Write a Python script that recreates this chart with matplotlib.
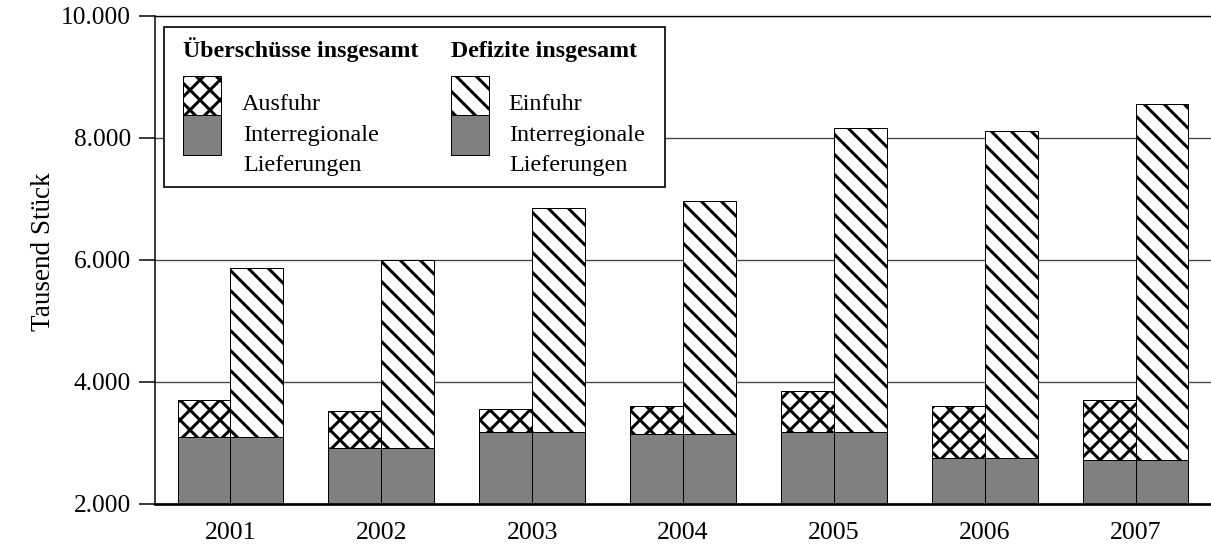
import matplotlib
matplotlib.use("Agg")
import matplotlib.pyplot as plt
from matplotlib.patches import Rectangle
import numpy as np

# Werte (Tausend Stück)
jahre = ["2001", "2002", "2003", "2004", "2005", "2006", "2007"]
interregional = [3100, 2925, 3185, 3145, 3185, 2760, 2715]
ausfuhr = [600, 600, 380, 465, 675, 850, 985]
einfuhr = [2770, 3075, 3660, 3825, 4985, 5360, 5840]
yticks = [2000, 4000, 6000, 8000, 10000]

W, H, DPI = 1211, 553, 120
GRAU = "#808080"
KREUZ = "xx"
SCHRAEG = "\\\\"

plt.rcParams["font.family"] = ["Liberation Serif", "DejaVu Serif"]
plt.rcParams["hatch.linewidth"] = 1.8


def px(x, y):
    # Pixel (von oben links) -> Figurkoordinaten
    return x / W, 1 - y / H


fig = plt.figure(figsize=(W / DPI, H / DPI), dpi=DPI)
ax = fig.add_axes([155 / W, 1 - 504 / H, (W - 155) / W, (504 - 16) / H])

x = np.arange(len(jahre))
bw = 0.35
oben = np.array(interregional)

# Überschüsse (links) und Defizite (rechts)
ax.bar(x - bw / 2, interregional, bw, color=GRAU, edgecolor="black", lw=0.6, zorder=2)
ax.bar(x - bw / 2, ausfuhr, bw, bottom=oben, color="white", edgecolor="black",
       hatch=KREUZ, lw=0.6, zorder=2)
ax.bar(x + bw / 2, interregional, bw, color=GRAU, edgecolor="black", lw=0.6, zorder=2)
ax.bar(x + bw / 2, einfuhr, bw, bottom=oben, color="white", edgecolor="black",
       hatch=SCHRAEG, lw=0.6, zorder=2)

ax.set_xlim(-0.5, len(jahre) - 0.5)
ax.set_ylim(2000, 10000)
ax.set_yticks(yticks)
ax.set_yticklabels([f"{v:,}".replace(",", ".") for v in yticks])
ax.set_xticks(x)
ax.set_xticklabels(jahre)
ax.tick_params(axis="y", direction="out", length=9.5, width=0.9, pad=5, labelsize=15.3)
ax.tick_params(axis="x", length=0, pad=11, labelsize=15.5)

ax.set_axisbelow(True)
ax.yaxis.grid(True, color="#444444", lw=0.8)

ax.spines["right"].set_visible(False)
ax.spines["top"].set_linewidth(0.8)
ax.spines["left"].set_linewidth(0.9)
ax.spines["bottom"].set_linewidth(1.6)

fx, fy = px(44, 252)
fig.text(fx, fy, "Tausend Stück", rotation=90, ha="center", va="center", fontsize=16.3)

# Legende von Hand (Kopfzeile, Doppelfeld, dreizeiliger Text)
x0, y0 = px(164, 187)
x1, y1 = px(665, 27)
fig.add_artist(Rectangle((x0, y0), x1 - x0, y1 - y0, transform=fig.transFigure,
                         facecolor="white", edgecolor="black", lw=1.0, zorder=3))

spalten = [(183, 243, "Überschüsse insgesamt", KREUZ, "Ausfuhr"),
           (451, 509, "Defizite insgesamt", SCHRAEG, "Einfuhr")]
for sx, tx, kopf, muster, name in spalten:
    hx, hy = px(sx, 56.5)
    fig.text(hx, hy, kopf, fontsize=14.3, fontweight="bold", va="baseline", zorder=4)
    # Doppelfeld: oben Schraffur, unten grau
    ax0, ay0 = px(sx, 115)
    ax1, ay1 = px(sx + 37.5, 76)
    fig.add_artist(Rectangle((ax0, ay0), ax1 - ax0, ay1 - ay0, transform=fig.transFigure,
                             facecolor="white", edgecolor="black", hatch=muster,
                             lw=0.6, zorder=4))
    gx0, gy0 = px(sx, 155)
    gx1, gy1 = px(sx + 37.5, 115)
    fig.add_artist(Rectangle((gx0, gy0), gx1 - gx0, gy1 - gy0, transform=fig.transFigure,
                             facecolor=GRAU, edgecolor="black", lw=0.6, zorder=4))
    for zeile, by in [(name, 109.5), ("Interregionale", 141.5), ("Lieferungen", 171.5)]:
        lx, ly = px(tx - 1 if zeile == name else tx, by)
        fig.text(lx, ly, zeile, fontsize=14.5, va="baseline", zorder=4)

fig.savefig("out.png", dpi=DPI)
